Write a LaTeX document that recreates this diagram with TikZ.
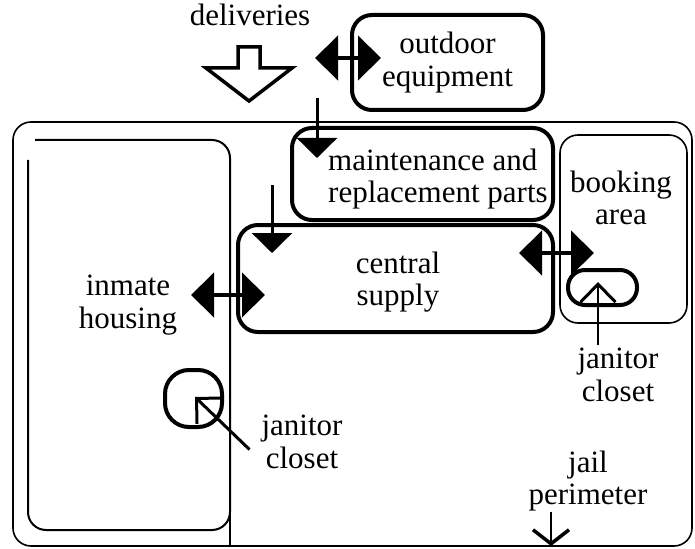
\documentclass[tikz,border=0pt]{standalone}
\usepackage{fontspec}
\setmainfont{Liberation Serif}
\usetikzlibrary{arrows.meta, positioning}

\begin{document}
\begin{tikzpicture}[x=1pt, y=-1pt,
    txt/.style={align=center, inner sep=0pt, font=\fontsize{31}{32.5}\selectfont},
    bigbox/.style={draw, line width=4pt, rounded corners=20pt, inner sep=0pt},
    thinbox/.style={draw, line width=1.6pt, rounded corners=18pt, inner sep=0pt},
    dblarrow/.style={line width=4.5pt, {Triangle[length=23pt, width=44pt]}-{Triangle[length=23pt, width=44pt]}},
    downarrow/.style={line width=3pt, -{Triangle[length=20pt, width=40pt]}},
    openarrow/.style={line width=2.5pt, -{Straight Barb[length=18pt, width=35pt, line width=3pt]}}]
    \useasboundingbox (0,0) rectangle (695,548);

    % The jail perimeter
    \draw[line width=1.6pt, rounded corners=18pt] (13,122) rectangle (692,546);
    \coordinate (gate) at (551,546);
    \node[txt] (jail) at (588,481) {jail\\perimeter};
    \draw[line width=1.5pt, -{Straight Barb[length=14pt, width=36pt, line width=3.5pt]}] ([xshift=-37pt]jail.south) -- (gate);

    % Deliveries
    \node[txt] (deliveries) at (250,14.5) {deliveries};
    \draw[line width=3.5pt, line join=miter, fill=white] (238,47) -- (260,47) -- (260,68) -- (292,68)
        -- (249,101) -- (206,68) -- (238,68) -- cycle;

    % Storage rooms
    \node[bigbox, txt, minimum width=191pt, minimum height=95pt] (outdoor) at (447.5,62.5) {outdoor\\equipment};
    \node[bigbox, minimum width=261pt, minimum height=92pt] (maint) at (422.5,174) {};
    \node[txt, align=left, anchor=west] (mainttxt) at (328,179) {maintenance and\\replacement parts};
    \node[bigbox, minimum width=315pt, minimum height=107pt] (supply) at (395.5,278.5) {};
    \node[txt] (supplytxt) at (398,282) {central\\supply};

    % Inmate housing
    \draw[line width=2pt, rounded corners=18pt] (35,140) -| (230,530) -| (28,160);
    \draw[line width=1.6pt] (230,505) -- (230,546);
    \node[txt] (housing) at (128,305) {inmate\\housing};
    \node[bigbox, rounded corners=24pt, minimum width=57pt, minimum height=57pt] (closetL) at (193.5,398.5) {};
    \node[txt] (closetLtxt) at (302,442) {janitor\\closet};

    % Booking area
    \node[thinbox, minimum width=127pt, minimum height=188pt] (booking) at (623.5,229) {};
    \node[txt] (bookingtxt) at (621,198) {booking\\area};
    \node[bigbox, rounded corners=17pt, minimum width=69pt, minimum height=35pt] (closetR) at (602.5,287.5) {};
    \node[txt] (closetRtxt) at (618,375) {janitor\\closet};

    % Flows
    \draw[dblarrow] ([xshift=-35pt, yshift=4.5pt]outdoor.west) -- ([xshift=31pt, yshift=4.5pt]outdoor.west);
    \draw[dblarrow] ([xshift=-45pt, yshift=-16.5pt]supply.west) -- ([xshift=29pt, yshift=-16.5pt]supply.west);
    \draw[dblarrow] ([xshift=-36pt, yshift=25.5pt]supply.east) -- ([xshift=39pt, yshift=25.5pt]supply.east);
    \draw[downarrow] ([xshift=-105.5pt, yshift=28pt]maint.north) -- ([xshift=-105.5pt, yshift=-32pt]maint.north);
    \draw[downarrow] ([xshift=-123.5pt, yshift=38pt]supply.north) -- ([xshift=-123.5pt, yshift=-30pt]supply.north);

    % Janitor closets
    \draw[openarrow] ([xshift=-4.5pt, yshift=-38pt]closetR.south) -- ([xshift=-4.5pt, yshift=25pt]closetR.south);
    \draw[line width=3pt, -{Straight Barb[length=18pt, width=36pt, line width=3pt]}] ([shift={(56pt,-51pt)}]closetL.center) -- ([shift={(1.5pt,1.5pt)}]closetL.center);
\end{tikzpicture}
\end{document}
